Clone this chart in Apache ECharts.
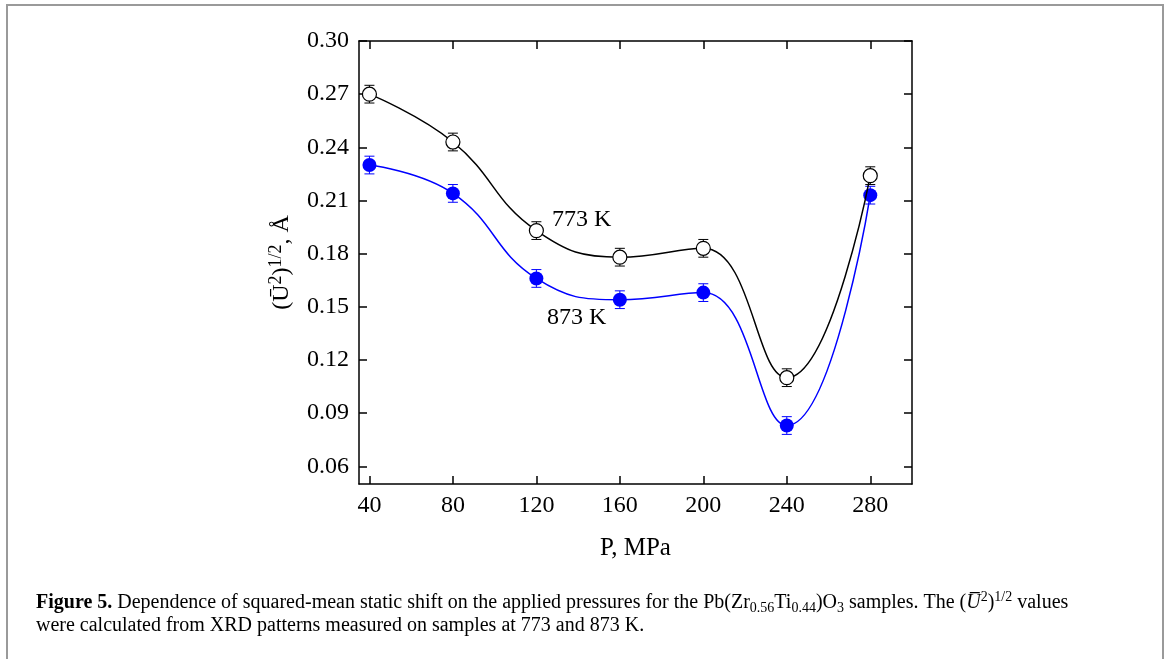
<!DOCTYPE html>
<html><head><meta charset="utf-8">
<script src="https://cdn.jsdelivr.net/npm/echarts@6/dist/echarts.min.js"></script>
<style>html,body{margin:0;padding:0;background:#fff}#c{width:1170px;height:659px}</style>
</head><body><div id="c"></div>
<script>
const pressures = [40, 80, 120, 160, 200, 240, 280];
const u773 = [0.270, 0.243, 0.193, 0.178, 0.183, 0.110, 0.224];
const u873 = [0.230, 0.214, 0.166, 0.154, 0.158, 0.083, 0.213];
const err773 = [0.005, 0.005, 0.005, 0.005, 0.005, 0.005, 0.005];
const err873 = [0.005, 0.005, 0.005, 0.005, 0.005, 0.005, 0.005];
const xTicks = [40, 80, 120, 160, 200, 240, 280];
const yTicks = [0.06, 0.09, 0.12, 0.15, 0.18, 0.21, 0.24, 0.27, 0.30];

const FONT = '"Liberation Serif", "DejaVu Serif", serif';
const chart = echarts.init(document.getElementById('c'), null, {renderer: 'canvas'});

function errRender(color) {
  return function (params, api) {
    const x = api.value(0), lo = api.value(1), hi = api.value(2);
    const a = api.coord([x, lo]), b = api.coord([x, hi]);
    const w = 5;
    const st = {stroke: color, lineWidth: 1};
    return {type: 'group', children: [
      {type: 'line', shape: {x1: a[0], y1: a[1], x2: b[0], y2: b[1]}, style: st},
      {type: 'line', shape: {x1: a[0] - w, y1: a[1], x2: a[0] + w, y2: a[1]}, style: st},
      {type: 'line', shape: {x1: b[0] - w, y1: b[1], x2: b[0] + w, y2: b[1]}, style: st}
    ]};
  };
}
const errData = (v, e) => pressures.map((p, i) => [p, v[i] - e[i], v[i] + e[i]]);

const axisLineStyle = {color: '#000', width: 1.5};
const xAxisBase = {
  type: 'value', min: 35, max: 300,
  axisLine: {show: true, onZero: false, lineStyle: axisLineStyle},
  splitLine: {show: false},
  axisTick: {show: true, inside: true, length: 8, lineStyle: {color: '#000', width: 1.5}, customValues: xTicks}
};
const yAxisBase = {
  type: 'value', min: 0.05, max: 0.30,
  axisLine: {show: true, onZero: false, lineStyle: axisLineStyle},
  splitLine: {show: false},
  axisTick: {show: true, inside: true, length: 8, lineStyle: {color: '#000', width: 1.5}, customValues: yTicks}
};

const option = {
  backgroundColor: '#fff',
  animation: false,
  grid: {left: 359, top: 41, right: 258, bottom: 175, containLabel: false},
  xAxis: [
    Object.assign({}, xAxisBase, {
      position: 'bottom',
      axisLabel: {show: true, customValues: xTicks, margin: 10, color: '#000', fontFamily: FONT, fontSize: 24},
      name: 'P, MPa', nameLocation: 'middle', nameGap: 52,
      nameTextStyle: {color: '#000', fontFamily: FONT, fontSize: 25}
    }),
    Object.assign({}, xAxisBase, {position: 'top', axisLabel: {show: false}})
  ],
  yAxis: [
    Object.assign({}, yAxisBase, {
      position: 'left',
      axisLabel: {show: true, customValues: yTicks, margin: 10, color: '#000', fontFamily: FONT, fontSize: 24,
        formatter: v => v.toFixed(2)},
      name: '{n|(\u016A}{s|2}{n|)}{s|1/2}{n|, \u00C5}', nameLocation: 'middle', nameGap: 62, nameRotate: 90,
      nameTextStyle: {color: '#000', fontFamily: FONT, fontSize: 24,
        rich: {
          n: {fontFamily: FONT, fontSize: 24, lineHeight: 30, color: '#000', verticalAlign: 'middle'},
          s: {fontFamily: FONT, fontSize: 18, lineHeight: 18, color: '#000', verticalAlign: 'top'}
        }}
    }),
    Object.assign({}, yAxisBase, {position: 'right', axisLabel: {show: false}})
  ],
  series: [
    {type: 'custom', name: 'err773', renderItem: errRender('#000'), data: errData(u773, err773),
      encode: {x: 0, y: [1, 2]}, z: 1, silent: true},
    {type: 'custom', name: 'err873', renderItem: errRender('#0000ff'), data: errData(u873, err873),
      encode: {x: 0, y: [1, 2]}, z: 1, silent: true},
    {type: 'line', name: '873 K', data: pressures.map((p, i) => [p, u873[i]]), smooth: 0.45,
      symbol: 'circle', symbolSize: 14, showAllSymbol: true,
      lineStyle: {color: '#0000ff', width: 1.5},
      itemStyle: {color: '#0000ff', borderColor: '#0000ff', borderWidth: 0}, z: 3},
    {type: 'line', name: '773 K', data: pressures.map((p, i) => [p, u773[i]]), smooth: 0.45,
      symbol: 'circle', symbolSize: 14, showAllSymbol: true,
      lineStyle: {color: '#000', width: 1.5},
      itemStyle: {color: '#fff', borderColor: '#000', borderWidth: 1.2}, z: 4}
  ],
  graphic: [
    {type: 'rect', shape: {x: 7, y: 5, width: 1156, height: 720}, silent: true,
      style: {fill: 'none', stroke: '#9a9a9a', lineWidth: 2}},
    {type: 'text', left: 552, top: 208, silent: true,
      style: {text: '773 K', fill: '#000', font: '24px ' + FONT}},
    {type: 'text', left: 547, top: 306, silent: true,
      style: {text: '873 K', fill: '#000', font: '24px ' + FONT}},
    {type: 'text', left: 36, top: 590, silent: true,
      style: {
        text: '{b|Figure 5.}{n| Dependence of squared-mean static shift on the applied pressures for the Pb(Zr}{sub|0.56}{n|Ti}{sub|0.44}{n|)O}{sub|3}{n| samples. The (}{i|U\u0305}{sup|2}{n|)}{sup|1/2}{n| values}',
        fill: '#000',
        rich: {
          b: {fontFamily: FONT, fontWeight: 'bold', fontSize: 20, lineHeight: 25, verticalAlign: 'middle'},
          n: {fontFamily: FONT, fontSize: 20, lineHeight: 25, verticalAlign: 'middle'},
          i: {fontFamily: FONT, fontStyle: 'italic', fontSize: 20, lineHeight: 25, verticalAlign: 'middle'},
          sub: {fontFamily: FONT, fontSize: 14, lineHeight: 14, verticalAlign: 'bottom'},
          sup: {fontFamily: FONT, fontSize: 14, lineHeight: 14, verticalAlign: 'top'}
        }
      }},
    {type: 'text', left: 36, top: 616, silent: true,
      style: {text: 'were calculated from XRD patterns measured on samples at 773 and 873 K.', fill: '#000',
        font: '20px ' + FONT}}
  ]
};
chart.setOption(option);
</script>
</body></html>
